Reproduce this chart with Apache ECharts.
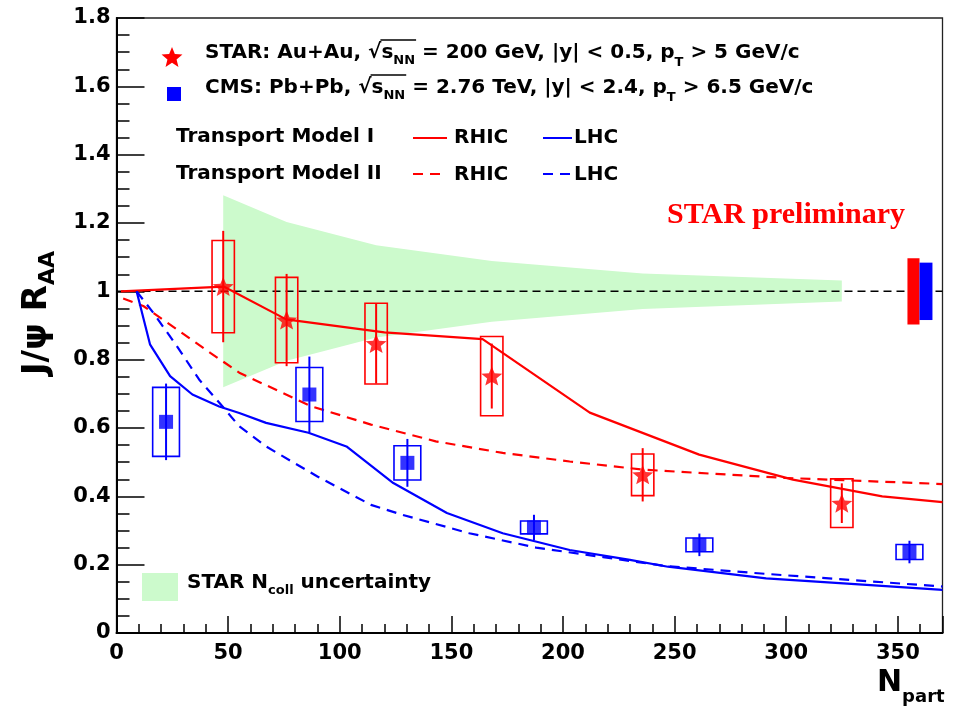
<!DOCTYPE html>
<html>
<head>
<meta charset="utf-8">
<script src="https://cdn.jsdelivr.net/npm/echarts@6/dist/echarts.min.js"></script>
<style>
  html, body { margin: 0; padding: 0; background: #fff; }
  #chart { width: 956px; height: 714px; }
</style>
</head>
<body>
<div id="chart"></div>
<script>
// ---- STAR Au+Au 200 GeV, J/psi R_AA vs N_part ----
const starNpart = [47.8, 76.2, 116.3, 168.1, 235.7, 324.9];
const starRaa   = [1.014, 0.916, 0.847, 0.752, 0.463, 0.380];
const starStat  = [0.163, 0.135, 0.117, 0.095, 0.078, 0.058];
const starSys   = [0.135, 0.125, 0.118, 0.116, 0.061, 0.071];

// ---- CMS Pb+Pb 2.76 TeV ----
const cmsNpart = [22.2, 86.4, 130.3, 187.0, 261.1, 355.2];
const cmsRaa   = [0.618, 0.698, 0.498, 0.309, 0.258, 0.237];
const cmsStat  = [0.112, 0.111, 0.070, 0.037, 0.033, 0.033];
const cmsSys   = [0.101, 0.079, 0.050, 0.019, 0.020, 0.022];

// ---- STAR N_coll uncertainty band ----
const ncollNpart = [47.8, 76.2, 116.3, 168.1, 235.7, 324.9];
const ncollUpper = [1.281, 1.203, 1.135, 1.089, 1.052, 1.032];
const ncollLower = [0.719, 0.797, 0.865, 0.911, 0.948, 0.970];

// ---- global normalisation uncertainties (around R_AA = 1) ----
const starGlobalErr = 0.097;
const cmsGlobalErr  = 0.084;

// ---- Transport Model I ----
const tm1RhicNpart = [2, 48, 76, 120, 164, 212, 261, 303, 343, 370];
const tm1RhicRaa   = [1.0, 1.014, 0.918, 0.880, 0.860, 0.645, 0.522, 0.449, 0.400, 0.383];
const tm1LhcNpart  = [9, 15, 24, 34, 46, 55, 67, 86, 103, 124, 148, 173, 203, 230, 247, 291, 336, 370];
const tm1LhcRaa    = [1.0, 0.845, 0.752, 0.698, 0.663, 0.644, 0.615, 0.586, 0.546, 0.439, 0.351, 0.292, 0.243, 0.214, 0.194, 0.160, 0.141, 0.126];

// ---- Transport Model II ----
const tm2RhicNpart = [3, 12, 27, 42, 55, 87, 114, 143, 173, 203, 236, 299, 370];
const tm2RhicRaa   = [0.979, 0.957, 0.889, 0.820, 0.762, 0.664, 0.610, 0.561, 0.527, 0.502, 0.478, 0.454, 0.436];
const tm2LhcNpart  = [9, 16.5, 27, 37, 48, 55, 67, 90, 114, 128, 158, 188, 218, 246, 291, 336, 370];
const tm2LhcRaa    = [1.0, 0.937, 0.840, 0.742, 0.659, 0.605, 0.546, 0.458, 0.375, 0.346, 0.292, 0.250, 0.222, 0.196, 0.173, 0.152, 0.136];

// ---- axis ticks ----
const xTicks = [0, 50, 100, 150, 200, 250, 300, 350];
const yTicks = [0, 0.2, 0.4, 0.6, 0.8, 1, 1.2, 1.4, 1.6, 1.8];

// ---------------------------------------------------------------
const RED = '#ff0000';
const BLUE = '#0000ff';
const BAND = '#ccfacc';
const FAMILY = '"DejaVu Sans", sans-serif';
const STAR_HALF_W = 5;   // half width of STAR systematic boxes (N_part units)
const CMS_HALF_W = 6;    // half width of CMS systematic boxes

const zip = (xs, ys) => xs.map((x, i) => [x, ys[i]]);

function starPoints(cx, cy, R, r) {
  const pts = [];
  for (let k = 0; k < 10; k++) {
    const a = -Math.PI / 2 + k * Math.PI / 5;
    const rad = k % 2 === 0 ? R : r;
    pts.push([cx + rad * Math.cos(a), cy + rad * Math.sin(a)]);
  }
  return pts;
}
const starPath = 'path://' + starPoints(0, 0, 100, 44)
  .map((p, i) => (i ? 'L' : 'M') + p[0].toFixed(2) + ' ' + p[1].toFixed(2)).join(' ') + ' Z';

function boxSeries(xs, ys, errs, halfW, color) {
  return {
    type: 'custom',
    dimensions: ['x', 'y', 'e'],
    encode: { x: 0, y: 1 },
    data: xs.map((x, i) => [x, ys[i], errs[i]]),
    z: 4,
    renderItem: (params, api) => {
      const x = api.value(0), y = api.value(1), e = api.value(2);
      const p1 = api.coord([x - halfW, y + e]);
      const p2 = api.coord([x + halfW, y - e]);
      return {
        type: 'rect',
        shape: { x: p1[0], y: p1[1], width: p2[0] - p1[0], height: p2[1] - p1[1] },
        style: { fill: null, stroke: color, lineWidth: 1.6 }
      };
    }
  };
}

function errSeries(xs, ys, errs, color) {
  return {
    type: 'custom',
    dimensions: ['x', 'y', 'e'],
    encode: { x: 0, y: 1 },
    data: xs.map((x, i) => [x, ys[i], errs[i]]),
    z: 5,
    renderItem: (params, api) => {
      const x = api.value(0), y = api.value(1), e = api.value(2);
      const p1 = api.coord([x, y + e]);
      const p2 = api.coord([x, y - e]);
      return {
        type: 'line',
        shape: { x1: p1[0], y1: p1[1], x2: p2[0], y2: p2[1] },
        style: { stroke: color, lineWidth: 2 }
      };
    }
  };
}

function globalBox(x0, x1, err, color) {
  return {
    type: 'custom',
    dimensions: ['x0', 'x1', 'e'],
    encode: { x: [0, 1] },
    data: [[x0, x1, err]],
    z: 5,
    renderItem: (params, api) => {
      const p1 = api.coord([api.value(0), 1 + api.value(2)]);
      const p2 = api.coord([api.value(1), 1 - api.value(2)]);
      return {
        type: 'rect',
        shape: { x: p1[0], y: p1[1], width: p2[0] - p1[0], height: p2[1] - p1[1] },
        style: { fill: color }
      };
    }
  };
}

function modelLine(xs, ys, color, dashed) {
  return {
    type: 'line',
    data: zip(xs, ys),
    symbol: 'none',
    z: 3,
    silent: true,
    lineStyle: { color: color, width: 2.2, type: dashed ? [10, 7] : 'solid' }
  };
}

// ---- text helpers (runs with sub-scripts and radical overline) ----
const mctx = document.createElement('canvas').getContext('2d');
function measure(str, font) { mctx.font = font; return mctx.measureText(str).width; }

function textRun(x, y, pieces, opt) {
  const o = Object.assign({ size: 20, sub: 13, subDy: 8, color: '#000', overDy: -13 }, opt || {});
  const mainFont = `bold ${o.size}px ${FAMILY}`;
  const subFont = `bold ${o.sub}px ${FAMILY}`;
  const els = [];
  let cx = x;
  let ovStart = null, ovEnd = null;
  pieces.forEach(p => {
    const font = p.s ? subFont : mainFont;
    const dy = p.s ? (p.dy !== undefined ? p.dy : o.subDy) : 0;
    els.push({
      type: 'text', x: cx, y: y + dy, silent: true,
      style: { text: p.t, font: font, fill: o.color, align: 'left', verticalAlign: 'middle' }
    });
    const w = measure(p.t, font);
    if (p.o) { if (ovStart === null) ovStart = cx; ovEnd = cx + w; }
    cx += w;
  });
  if (ovStart !== null) {
    els.push({
      type: 'line', silent: true,
      shape: { x1: ovStart - 1, y1: y + o.overDy, x2: ovEnd + 1, y2: y + o.overDy },
      style: { stroke: o.color, lineWidth: 1.4 }
    });
  }
  return { els, width: cx - x };
}

const graphics = [];

// legend row 1: STAR
graphics.push({
  type: 'polygon', silent: true,
  shape: { points: starPoints(172, 58, 11, 4.8) },
  style: { fill: RED }
});
graphics.push(...textRun(205, 53, [
  { t: 'STAR: Au+Au, \u221A' }, { t: 's', o: 1 }, { t: 'NN', s: 1, o: 1 },
  { t: ' = 200 GeV, |y| < 0.5, p' }, { t: 'T', s: 1, dy: 10 }, { t: ' > 5 GeV/c' }
]).els);

// legend row 2: CMS
graphics.push({
  type: 'rect', silent: true,
  shape: { x: 167, y: 87, width: 14, height: 14 },
  style: { fill: BLUE }
});
graphics.push(...textRun(205, 88, [
  { t: 'CMS: Pb+Pb, \u221A' }, { t: 's', o: 1 }, { t: 'NN', s: 1, o: 1 },
  { t: ' = 2.76 TeV, |y| < 2.4, p' }, { t: 'T', s: 1, dy: 10 }, { t: ' > 6.5 GeV/c' }
]).els);

// legend rows 3-4: transport models
graphics.push(...textRun(176, 137, [{ t: 'Transport Model I' }]).els);
graphics.push(...textRun(176, 174, [{ t: 'Transport Model II' }]).els);
graphics.push(...textRun(454, 138, [{ t: 'RHIC' }]).els);
graphics.push(...textRun(574, 138, [{ t: 'LHC' }]).els);
graphics.push(...textRun(454, 175, [{ t: 'RHIC' }]).els);
graphics.push(...textRun(574, 175, [{ t: 'LHC' }]).els);
[[413, 447, 138, RED, false], [543, 572, 138, BLUE, false],
 [413, 447, 174, RED, true], [543, 572, 174, BLUE, true]].forEach(s => {
  graphics.push({
    type: 'line', silent: true,
    shape: { x1: s[0], y1: s[2], x2: s[1], y2: s[2] },
    style: { stroke: s[3], lineWidth: 2, lineDash: s[4] ? [10, 7] : null }
  });
});

// STAR preliminary
graphics.push({
  type: 'text', x: 667, y: 215, silent: true,
  style: { text: 'STAR preliminary', font: 'bold 30px "Liberation Serif", serif', fill: RED, verticalAlign: 'middle' }
});

// N_coll uncertainty legend
graphics.push({
  type: 'rect', silent: true,
  shape: { x: 142, y: 573, width: 36, height: 28 },
  style: { fill: BAND }
});
graphics.push(...textRun(187, 583, [
  { t: 'STAR N' }, { t: 'coll', s: 1 }, { t: ' uncertainty' }
]).els);

// axis titles
(function () {
  const run = textRun(0, 0, [{ t: 'J/\u03C8 R' }, { t: 'AA', s: 1 }], { size: 34, sub: 22, subDy: 11 });
  graphics.push({
    type: 'group', x: 37, y: 313 + run.width / 2, rotation: Math.PI / 2,
    children: run.els
  });
  const run2 = textRun(877, 683, [{ t: 'N' }, { t: 'part', s: 1 }], { size: 30, sub: 18, subDy: 14 });
  graphics.push(...run2.els);
})();

const option = {
  animation: false,
  backgroundColor: '#fff',
  grid: {
    left: 116.5, top: 18, width: 826, height: 615,
    show: true, borderColor: '#222', borderWidth: 1.3, backgroundColor: 'transparent'
  },
  xAxis: {
    type: 'value', min: 0, max: 370, interval: 50,
    axisLine: { show: true, onZero: false, lineStyle: { color: '#000', width: 2 } },
    axisTick: { show: true, inside: true, length: 17, lineStyle: { color: '#000', width: 1.5 } },
    minorTick: { show: true, splitNumber: 5, length: 9, lineStyle: { color: '#000', width: 1.5 } },
    splitLine: { show: false },
    axisLabel: {
      color: '#000', fontFamily: FAMILY, fontWeight: 'bold', fontSize: 21, margin: 10,
      showMaxLabel: false,
      formatter: v => (xTicks.indexOf(v) >= 0 ? String(v) : '')
    }
  },
  yAxis: {
    type: 'value', min: 0, max: 1.8, interval: 0.2,
    axisLine: { show: true, onZero: false, lineStyle: { color: '#000', width: 2 } },
    axisTick: { show: true, inside: true, length: 28, lineStyle: { color: '#000', width: 1.5 } },
    minorTick: { show: true, splitNumber: 4, length: 13, lineStyle: { color: '#000', width: 1.5 } },
    splitLine: { show: false },
    axisLabel: {
      color: '#000', fontFamily: FAMILY, fontWeight: 'bold', fontSize: 21, margin: 6,
      formatter: v => {
        const t = yTicks.find(k => Math.abs(k - v) < 1e-6);
        return t === undefined ? '' : String(t);
      }
    }
  },
  series: [
    // N_coll band
    {
      type: 'custom',
      dimensions: ['x', 'y'],
      encode: { x: 0, y: 1 },
      data: [[ncollNpart[0], ncollUpper[0]]],
      z: 1,
      silent: true,
      renderItem: (params, api) => {
        const pts = [];
        ncollNpart.forEach((x, i) => pts.push(api.coord([x, ncollUpper[i]])));
        for (let i = ncollNpart.length - 1; i >= 0; i--) pts.push(api.coord([ncollNpart[i], ncollLower[i]]));
        return { type: 'polygon', shape: { points: pts }, style: { fill: BAND } };
      }
    },
    // unity reference line
    {
      type: 'line', data: [[0, 1], [370, 1]], symbol: 'none', z: 2, silent: true,
      lineStyle: { color: '#000', width: 1.5, type: [8, 5] }
    },
    modelLine(tm1RhicNpart, tm1RhicRaa, RED, false),
    modelLine(tm2RhicNpart, tm2RhicRaa, RED, true),
    modelLine(tm1LhcNpart, tm1LhcRaa, BLUE, false),
    modelLine(tm2LhcNpart, tm2LhcRaa, BLUE, true),
    boxSeries(starNpart, starRaa, starSys, STAR_HALF_W, RED),
    boxSeries(cmsNpart, cmsRaa, cmsSys, CMS_HALF_W, BLUE),
    errSeries(starNpart, starRaa, starStat, RED),
    errSeries(cmsNpart, cmsRaa, cmsStat, BLUE),
    {
      type: 'scatter', data: zip(starNpart, starRaa), symbol: starPath, symbolSize: [21, 19],
      itemStyle: { color: RED }, z: 6, silent: true
    },
    {
      type: 'scatter', data: zip(cmsNpart, cmsRaa), symbol: 'rect', symbolSize: 14,
      itemStyle: { color: BLUE }, z: 6, silent: true
    },
    globalBox(354.3, 359.7, starGlobalErr, RED),
    globalBox(359.7, 365.5, cmsGlobalErr, BLUE)
  ],
  graphic: { elements: graphics }
};

const chart = echarts.init(document.getElementById('chart'));
chart.setOption(option);
</script>
</body>
</html>
